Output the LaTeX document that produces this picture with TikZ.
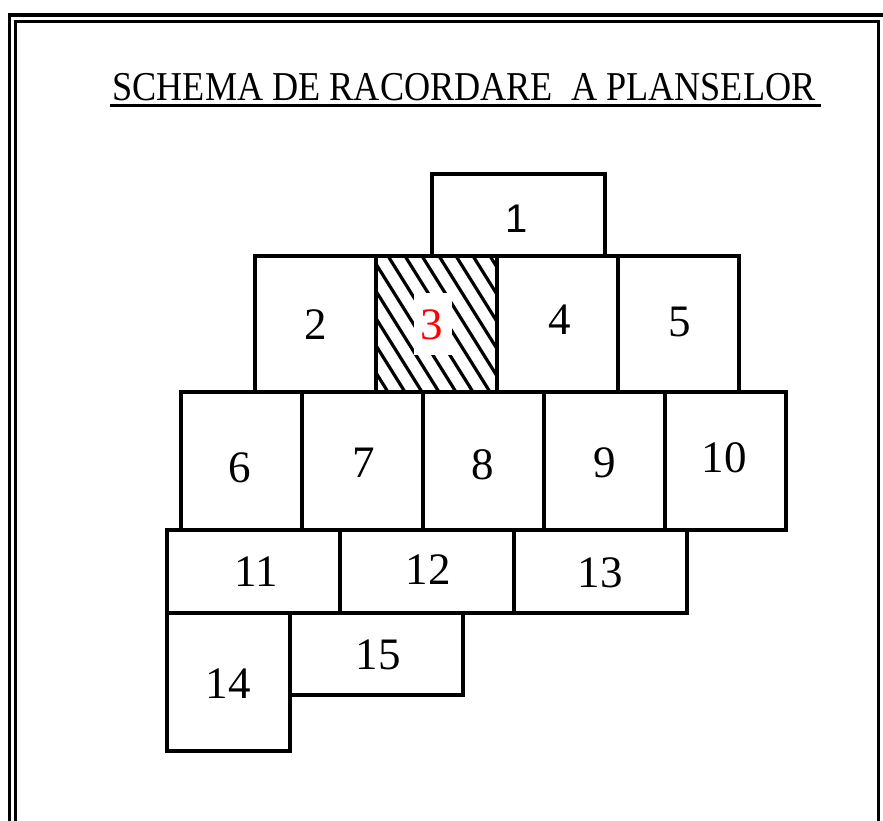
\documentclass[tikz,border=0pt]{standalone}
\usepackage{fontspec}
\setmainfont{Liberation Serif}
\newfontfamily\arialfont{Liberation Sans}
\begin{document}
\begin{tikzpicture}[x=1pt,y=-1pt,
  plan/.style={draw, line width=3.6pt, inner sep=0pt},
  num/.style={font=\fontsize{45}{50}\selectfont, inner sep=0pt},
  frameline/.style={line width=3.2pt},
  hatchline/.style={line width=3.2pt}]
\useasboundingbox (0,0) rectangle (883,821);
% frame
\draw[frameline] (9.5,840) -- (9.5,15) -- (900,15);
\draw[frameline] (15.5,840) -- (15.5,21.5) -- (878.5,21.5) -- (878.5,840);
% title
\node[anchor=base, inner sep=0pt] (title) at (464,101)
  {\resizebox{703pt}{\height}{\fontsize{41}{45}\selectfont SCHEMA DE RACORDARE\ \ A PLANSELOR}};
\draw[line width=3.6pt] (title.south west) ++(-2,4) coordinate (ul1) -- (ul1 -| title.south east) -- ++(5,0) coordinate (ul2);
% boxes
\node[plan, minimum width=173pt, minimum height=82pt] (b1) at (518.5,215) {};
\node[plan, minimum width=121pt, minimum height=136pt] (b2) at (315.5,324) {};
\node[plan, minimum width=121pt, minimum height=136pt] (b3) at (436.5,324) {};
\node[plan, minimum width=121pt, minimum height=136pt] (b4) at (557.5,324) {};
\node[plan, minimum width=121pt, minimum height=136pt] (b5) at (678.5,324) {};
\node[plan, minimum width=121pt, minimum height=138pt] (b6) at (241.5,461) {};
\node[plan, minimum width=121pt, minimum height=138pt] (b7) at (362.5,461) {};
\node[plan, minimum width=121pt, minimum height=138pt] (b8) at (483.5,461) {};
\node[plan, minimum width=121pt, minimum height=138pt] (b9) at (604.5,461) {};
\node[plan, minimum width=121pt, minimum height=138pt] (b10) at (725.5,461) {};
\node[plan, minimum width=173pt, minimum height=83pt] (b11) at (253.5,571.5) {};
\node[plan, minimum width=174pt, minimum height=83pt] (b12) at (427,571.5) {};
\node[plan, minimum width=173pt, minimum height=83pt] (b13) at (600.5,571.5) {};
\node[plan, minimum width=123pt, minimum height=138pt] (b14) at (228.5,682) {};
\node[plan, minimum width=173pt, minimum height=82pt] (b15) at (376.5,654) {};
% hatch of sheet 3
\begin{scope}
  \clip (b3.north west) rectangle (b3.south east);
  \foreach \k in {-6,...,6}
    \draw[hatchline] (388+17*\k,256) -- ++(85,136);
\end{scope}
\node[fill=white, minimum width=38pt, minimum height=62pt, inner sep=0pt] (m3) at (432.5,323.5) {};
% labels
\node[inner sep=0pt, font=\arialfont\fontsize{40}{44}\selectfont] (t1) at (517,219) {1};
\node[num] (t2) at (316,325) {2};
\node[num, text=red] (t3) at (432,325) {3};
\node[num] (t4) at (560,320) {4};
\node[num] (t5) at (680,322) {5};
\node[num] (t6) at (240,468) {6};
\node[num] (t7) at (364,463) {7};
\node[num] (t8) at (483,465) {8};
\node[num] (t9) at (605,463) {9};
\node[num] (t10) at (724,458) {10};
\node[num] (t11) at (256,572) {11};
\node[num] (t12) at (428,570) {12};
\node[num] (t13) at (600,573) {13};
\node[num] (t14) at (228,684) {14};
\node[num] (t15) at (378,655) {15};
\end{tikzpicture}
\end{document}
